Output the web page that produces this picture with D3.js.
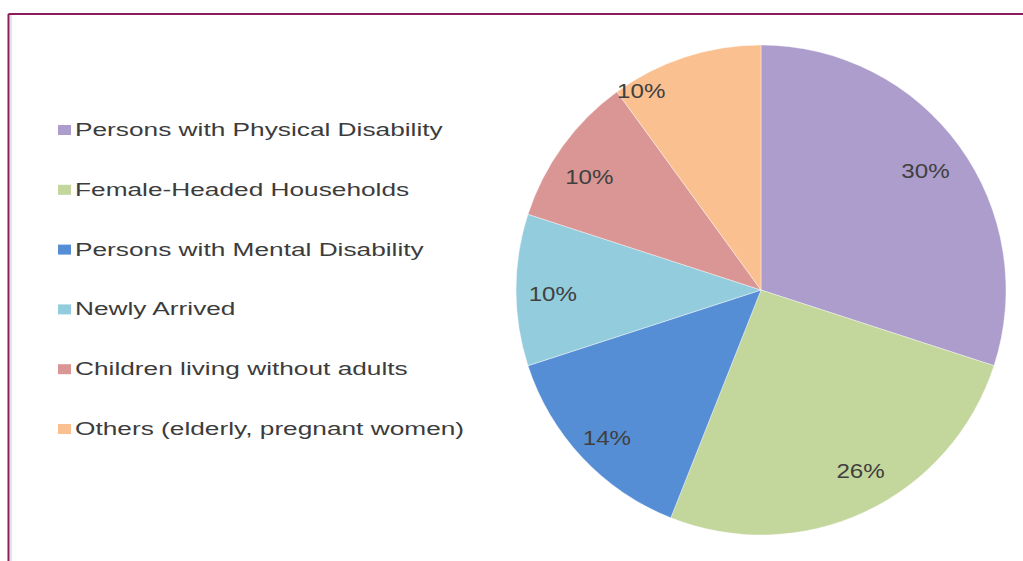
<!DOCTYPE html>
<html>
<head>
<meta charset="utf-8">
<script src="https://cdn.jsdelivr.net/npm/d3@7"></script>
<style>
  html, body { margin: 0; padding: 0; background: #ffffff; }
  svg { display: block; }
</style>
</head>
<body>
<svg id="chart" width="1023" height="561"></svg>
<script>
// ---- data ----
const categories = [
  "Persons with Physical Disability",
  "Female-Headed Households",
  "Persons with Mental Disability",
  "Newly Arrived",
  "Children living without adults",
  "Others (elderly, pregnant women)"
];
const values = [30, 26, 14, 10, 10, 10];
const labels = ["30%", "26%", "14%", "10%", "10%", "10%"];

// ---- style / layout ----
const colors = ["#ac9dcc", "#c3d69b", "#558ed5", "#93cddd", "#d99694", "#fac090"];
// label placement: [fraction along slice angle, fraction of radius]
const labelLayout = [[0.50, 0.83], [0.46, 0.84], [0.49, 0.87], [0.47, 0.85], [0.43, 0.84], [0.14, 0.95]];

const W = 1023, H = 561;
const svg = d3.select("#chart");

// frame
const frameColor = "#8c1c5c";
svg.append("line").attr("x1", 8.5).attr("x2", W).attr("y1", 14).attr("y2", 14)
  .attr("stroke", frameColor).attr("stroke-width", 2);
svg.append("line").attr("x1", 8.5).attr("x2", 8.5).attr("y1", 14).attr("y2", H)
  .attr("stroke", frameColor).attr("stroke-width", 2);
svg.append("line").attr("x1", 11).attr("x2", 11).attr("y1", 15).attr("y2", H)
  .attr("stroke", "#e4e4e4").attr("stroke-width", 2);

// pie
const cx = 761, cy = 290, R = 245;
const pie = d3.pie().sort(null).value(d => d)(values);
const arc = d3.arc().innerRadius(0).outerRadius(R);
const g = svg.append("g").attr("transform", `translate(${cx},${cy})`);

g.selectAll("path.slice").data(pie).enter().append("path")
  .attr("class", "slice")
  .attr("d", arc)
  .attr("fill", (d, i) => colors[i])
  .attr("stroke", "#ffffff")
  .attr("stroke-opacity", 0.5)
  .attr("stroke-width", 0.8);

g.selectAll("text.lbl").data(pie).enter().append("text")
  .attr("class", "lbl")
  .attr("transform", (d, i) => {
    const [t, f] = labelLayout[i];
    const a = d.startAngle + t * (d.endAngle - d.startAngle);
    const x = Math.sin(a) * R * f, y = -Math.cos(a) * R * f;
    return `translate(${x},${y}) scale(1.15,1)`;
  })
  .attr("text-anchor", "middle")
  .attr("dy", "0.36em")
  .attr("font-family", "'Liberation Sans', Arial, sans-serif")
  .attr("font-size", 21)
  .attr("fill", "#404040")
  .text((d, i) => labels[i]);

// legend
const legY0 = 136, legStep = 59.8;
const leg = svg.append("g");
const rows = leg.selectAll("g.row").data(categories).enter().append("g")
  .attr("class", "row")
  .attr("transform", (d, i) => `translate(0,${legY0 + i * legStep})`);
rows.append("rect")
  .attr("x", 58).attr("y", -11).attr("width", 13).attr("height", 10)
  .attr("fill", (d, i) => colors[i]);
rows.append("text")
  .attr("transform", "translate(75,0) scale(1.42,1)")
  .attr("font-family", "'Liberation Sans', Arial, sans-serif")
  .attr("font-size", 18.5)
  .attr("fill", "#3c3c3c")
  .text(d => d);
</script>
</body>
</html>
